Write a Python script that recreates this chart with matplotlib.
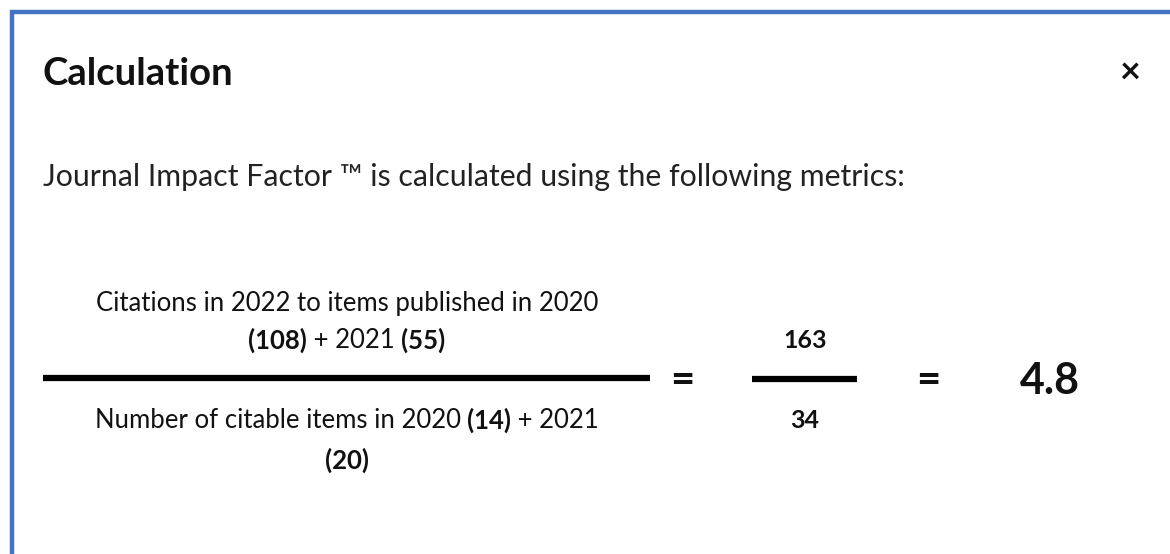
import matplotlib
matplotlib.use("Agg")
import matplotlib.pyplot as plt

# values from the dialog
years = [2022, 2020, 2021]
citations = [108, 55]
citable_items = [14, 20]
total_citations = 163
total_items = 34
impact_factor = 4.8

plt.rcParams['font.family'] = ['Lato', 'DejaVu Sans']
ink = '#111111'
border = '#4472C4'

fig = plt.figure(figsize=(11.7, 5.54), dpi=100)
ax = fig.add_axes([0, 0, 1, 1])
ax.set_xlim(0, 1170)
ax.set_ylim(554, 0)
ax.axis('off')
fig.canvas.draw()
renderer = fig.canvas.get_renderer()

# dialog border (top and left visible)
ax.plot([12, 12, 1170], [554, 12, 12], color=border, lw=3.2, solid_joinstyle='miter')


def text_width(s, size, weight):
    t = ax.text(0, 0, s, fontsize=size, fontweight=weight)
    w = t.get_window_extent(renderer).width
    t.remove()
    return w


def mixed(parts, xc, y, size):
    # parts: list of (string, bold) drawn side by side, centred on xc
    widths = [text_width(s, size, 'bold' if b else 'normal') for s, b in parts]
    x = xc - sum(widths) / 2
    for (s, b), w in zip(parts, widths):
        ax.text(x, y, s, fontsize=size, fontweight='bold' if b else 'normal',
                ha='left', va='center', color=ink)
        x += w


ax.text(43, 74, 'Calculation', fontsize=27.5, fontweight='bold', ha='left', va='center', color=ink)
ax.text(1130, 72, '×', fontsize=26, fontweight='bold', ha='center', va='center', color=ink)
ax.text(43, 177, 'Journal Impact Factor ™ is calculated using the following metrics:',
        fontsize=21.8, ha='left', va='center', color='#222222')

fs = 18.5
xc = 347
mixed([(f'Citations in {years[0]} to items published in {years[1]}', False)], xc, 303, fs)
mixed([(f'({citations[0]})', True), (f' + {years[2]} ', False), (f'({citations[1]})', True)], xc, 340, fs)
ax.plot([43, 650], [378, 378], color='black', lw=4.5, solid_capstyle='butt')
mixed([(f'Number of citable items in {years[1]} ', False), (f'({citable_items[0]})', True),
       (f' + {years[2]}', False)], xc, 420, fs)
mixed([(f'({citable_items[1]})', True)], xc, 460, fs)

ax.text(682, 381, '=', fontsize=30, fontweight='bold', ha='center', va='center', color=ink)
ax.text(805, 340, str(total_citations), fontsize=18, fontweight='bold', ha='center', va='center', color=ink)
ax.plot([752, 857], [379, 379], color='black', lw=4.5, solid_capstyle='butt')
ax.text(805, 421, str(total_items), fontsize=18, fontweight='bold', ha='center', va='center', color=ink)
ax.text(928, 381, '=', fontsize=30, fontweight='bold', ha='center', va='center', color=ink)
ax.text(1050, 381, f'{impact_factor}', fontsize=31, fontweight='bold', ha='center', va='center', color=ink)

fig.savefig('out.png', dpi=100, facecolor='white')
